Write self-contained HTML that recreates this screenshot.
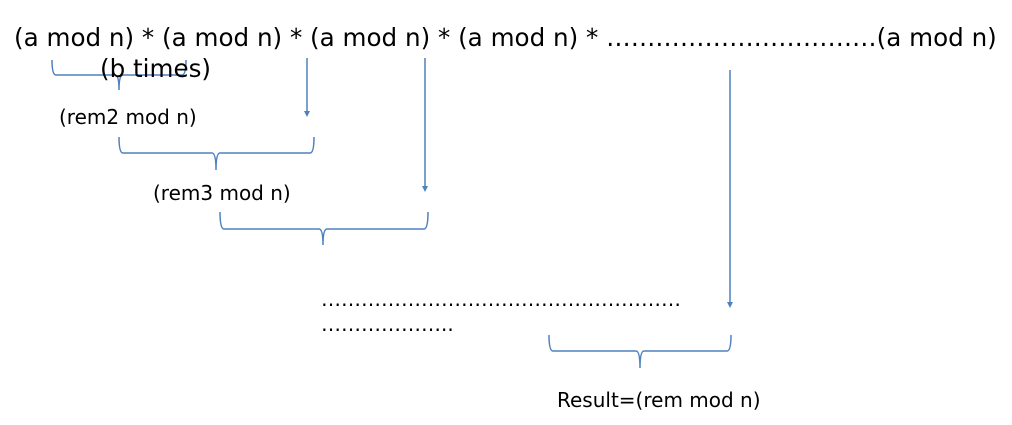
<!DOCTYPE html>
<html><head><style>
body{margin:0;width:1012px;height:425px;background:#fff;position:relative;overflow:hidden;font-family:"DejaVu Sans","Liberation Sans",sans-serif;color:#000}
.t{position:absolute;white-space:nowrap}
</style></head><body>
<svg width="1012" height="425" style="position:absolute;left:0;top:0" fill="none" stroke="#4f81bd" stroke-width="1.5">
<path d="M52,60 Q52,75 56,75 L115,75 Q119,75 119,90 Q119,75 123,75 L182,75 Q186,75 186,60"/>
<path d="M119,137 Q119,153 123,153 L212,153 Q216,153 216,170 Q216,153 220,153 L310,153 Q314,153 314,137"/>
<path d="M220,212 Q220,229 224,229 L319,229 Q323,229 323,245 Q323,229 327,229 L424,229 Q428,229 428,212"/>
<path d="M549,335 Q549,351 553,351 L636,351 Q640,351 640,368 Q640,351 644,351 L727,351 Q731,351 731,335"/>
<line x1="307" y1="58" x2="307" y2="112"/><path d="M304,111 L307,117 L310,111Z" fill="#4f81bd" stroke="none"/>
<line x1="425" y1="58" x2="425" y2="187"/><path d="M422,186 L425,192 L428,186Z" fill="#4f81bd" stroke="none"/>
<line x1="730" y1="70" x2="730" y2="303"/><path d="M727,302 L730,308 L733,302Z" fill="#4f81bd" stroke="none"/>
</svg>
<div class="t" style="left:14px;top:23px;font-size:24.6px">(a mod n) * (a mod n) * (a mod n) * (a mod n) * ……………………………(a mod n)</div>
<div class="t" style="left:100px;top:54px;font-size:24.6px">(b times)</div>
<div class="t" style="left:59px;top:105px;font-size:20px">(rem2 mod n)</div>
<div class="t" style="left:153px;top:181px;font-size:20px">(rem3 mod n)</div>
<div class="t" style="left:321px;top:287px;font-size:20px">………………………………………………</div>
<div class="t" style="left:321px;top:312px;font-size:20px">………………..</div>
<div class="t" style="left:557px;top:388px;font-size:20px">Result=(rem mod n)</div>
</body></html>
